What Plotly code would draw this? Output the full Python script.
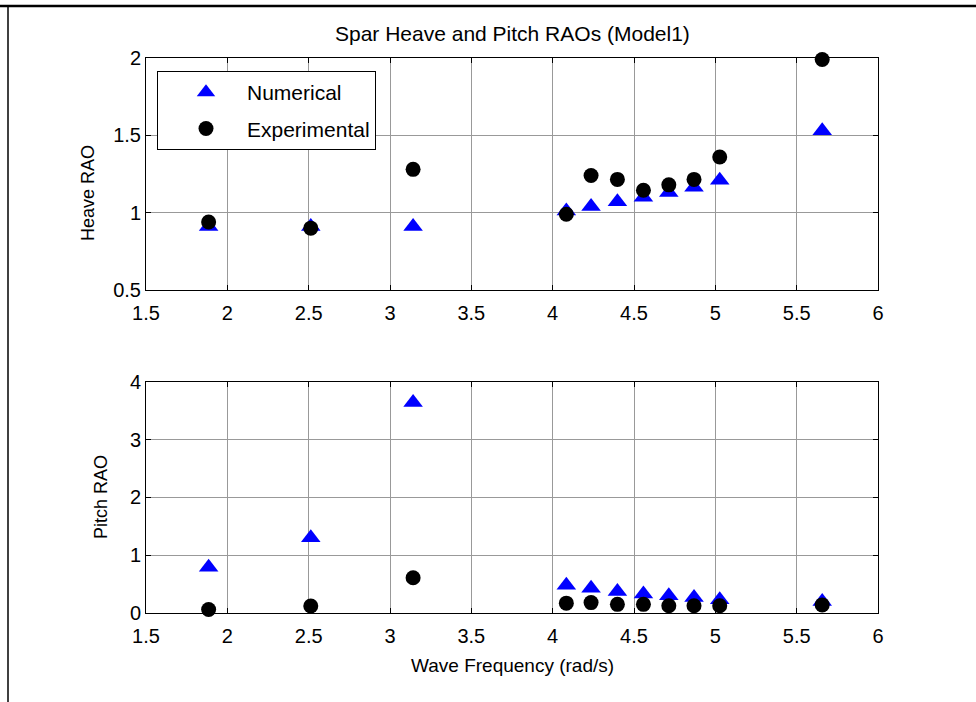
import plotly.graph_objects as go
from plotly.subplots import make_subplots

freq = [1.885, 2.513, 3.142, 4.084, 4.236, 4.398, 4.558, 4.714, 4.869, 5.027, 5.657]
heave_num = [0.91, 0.91, 0.91, 1.01, 1.04, 1.07, 1.10, 1.13, 1.165, 1.21, 1.53]
heave_exp = [0.94, 0.90, 1.28, 0.99, 1.24, 1.215, 1.145, 1.18, 1.215, 1.36, 1.99]
pitch_num = [0.79, 1.30, 3.64, 0.48, 0.43, 0.37, 0.33, 0.30, 0.27, 0.23, 0.20]
pitch_exp = [0.06, 0.12, 0.61, 0.17, 0.18, 0.15, 0.15, 0.125, 0.125, 0.125, 0.14]

x_ticks = [1.5, 2, 2.5, 3, 3.5, 4, 4.5, 5, 5.5, 6]
heave_ticks = [0.5, 1, 1.5, 2]
pitch_ticks = [0, 1, 2, 3, 4]

W, H = 976, 702
L, R, T, B = 146, 98, 58, 89
PW, PH = W - L - R, H - T - B

def px(xp):
    return (xp - L) / PW

def py(yp):
    return (H - B - yp) / PH

FONT = "Liberation Sans, Arial, sans-serif"

fig = make_subplots(rows=2, cols=1)

tri = dict(symbol="triangle-up", size=17, color="#0000FF", line=dict(width=0))
circ = dict(symbol="circle", size=15, color="#000000", line=dict(width=0))

fig.add_trace(go.Scatter(x=freq, y=heave_num, mode="markers", name="Numerical",
                         legendgroup="num", marker=tri, cliponaxis=False), row=1, col=1)
fig.add_trace(go.Scatter(x=freq, y=heave_exp, mode="markers", name="Experimental",
                         legendgroup="exp", marker=circ, cliponaxis=False), row=1, col=1)
fig.add_trace(go.Scatter(x=freq, y=pitch_num, mode="markers", name="Numerical",
                         legendgroup="num", marker=tri, cliponaxis=False,
                         showlegend=False), row=2, col=1)
fig.add_trace(go.Scatter(x=freq, y=pitch_exp, mode="markers", name="Experimental",
                         legendgroup="exp", marker=circ, cliponaxis=False,
                         showlegend=False), row=2, col=1)

axis_common = dict(showline=True, linecolor="black", linewidth=1, mirror="ticks",
                   ticks="inside", ticklen=5, tickcolor="black",
                   showgrid=True, gridcolor="#999999", gridwidth=1, zeroline=False,
                   tickfont=dict(family=FONT, size=20, color="black"))

top_dom = [py(290), 1.0]
bot_dom = [0.0, py(381.7)]

fig.update_xaxes(range=[1.5, 6], tickvals=x_ticks, ticktext=[f"{v:g}" for v in x_ticks],
                 ticklabelstandoff=5, **axis_common)
fig.update_yaxes(**axis_common)
fig.update_layout(
    xaxis=dict(domain=[0, 1]),
    xaxis2=dict(domain=[0, 1]),
    yaxis=dict(domain=top_dom, range=[0.5, 2], tickvals=heave_ticks,
               ticktext=[f"{v:g}" for v in heave_ticks]),
    yaxis2=dict(domain=bot_dom, range=[0, 4], tickvals=pitch_ticks,
                ticktext=[f"{v:g}" for v in pitch_ticks]),
)

fig.update_layout(
    width=W, height=H,
    margin=dict(l=L, r=R, t=T, b=B, autoexpand=False),
    paper_bgcolor="white", plot_bgcolor="white",
    font=dict(family=FONT, size=19, color="black"),
    showlegend=True,
    legend=dict(x=px(157), y=py(71), xanchor="left", yanchor="top",
                bgcolor="white", bordercolor="black", borderwidth=1,
                font=dict(family=FONT, size=21, color="black"),
                itemwidth=72, indentation=7, traceorder="grouped", tracegroupgap=6),
    annotations=[
        dict(text="Spar Heave and Pitch RAOs (Model1)", xref="paper", yref="paper",
             x=0.5, y=py(33), xanchor="center", yanchor="middle", showarrow=False,
             font=dict(family=FONT, size=21, color="black")),
        dict(text="Heave RAO", xref="paper", yref="paper", x=px(88), y=py(193),
             xanchor="center", yanchor="middle", textangle=-90, showarrow=False,
             font=dict(family=FONT, size=18, color="black")),
        dict(text="Pitch RAO", xref="paper", yref="paper", x=px(101), y=py(497),
             xanchor="center", yanchor="middle", textangle=-90, showarrow=False,
             font=dict(family=FONT, size=18, color="black")),
        dict(text="Wave Frequency (rad/s)", xref="paper", yref="paper", x=0.5, y=py(665),
             xanchor="center", yanchor="middle", showarrow=False,
             font=dict(family=FONT, size=19, color="black")),
    ],
    shapes=[
        dict(type="line", xref="paper", yref="paper", x0=px(0), x1=px(976),
             y0=py(6), y1=py(6), line=dict(color="black", width=2.5)),
        dict(type="line", xref="paper", yref="paper", x0=px(8), x1=px(8),
             y0=py(5), y1=py(702), line=dict(color="black", width=1.5)),
    ],
)

fig.write_html("out.html")
